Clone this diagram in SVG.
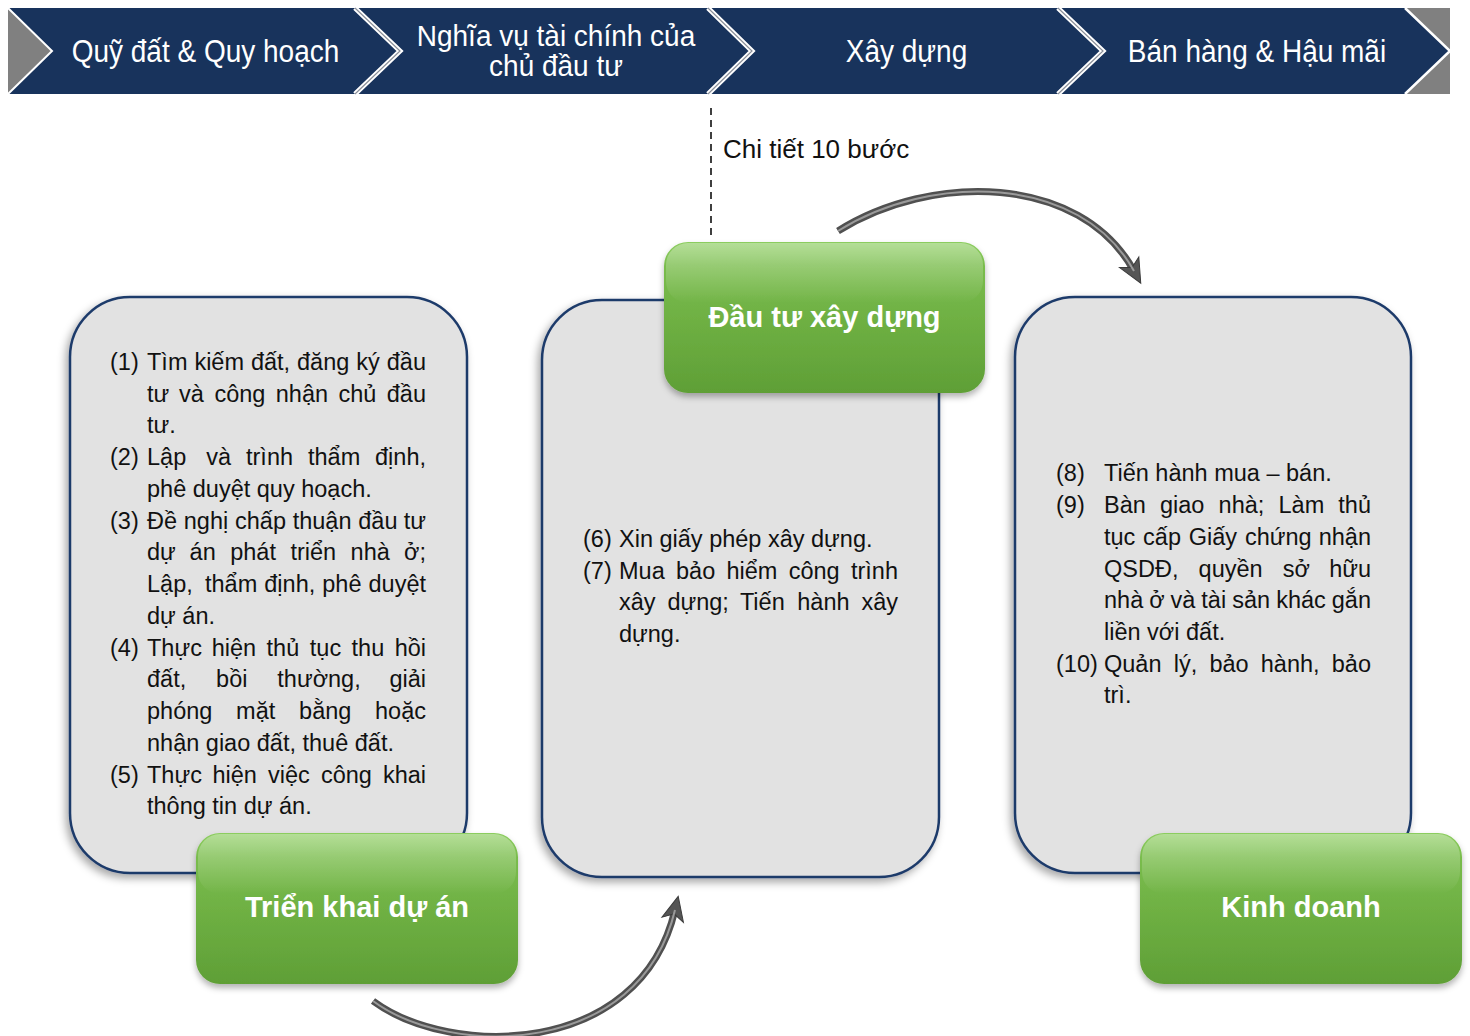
<svg xmlns="http://www.w3.org/2000/svg" width="1470" height="1036" viewBox="0 0 1470 1036">
<defs>
<style>
.t{font-family:"Liberation Sans",Arial,sans-serif;font-size:23.5px;fill:#111}
.e{text-anchor:end}
.hd{font-family:"Liberation Sans",Arial,sans-serif;font-size:28px;fill:#fff;text-anchor:middle}
.gl{font-family:"Liberation Sans",Arial,sans-serif;font-size:29px;font-weight:bold;fill:#fff;text-anchor:middle}
.chev{fill:#18335c}
.sepw{fill:none;stroke:#fff;stroke-width:5;stroke-linejoin:miter}
.sepg{fill:none;stroke:#8a8f99;stroke-width:1.2}
.box{fill:#e2e2e2;stroke:#1f3b6b;stroke-width:2.5;filter:url(#sh)}
.gbox{fill:url(#gG);filter:url(#gsh)}
.ghi{fill:url(#gH)}
.arr-o{fill:none;stroke:#505050;stroke-width:7;stroke-linecap:butt}
.arr-i{fill:none;stroke:#9a9a9a;stroke-width:2}
</style>
<filter id="sh" x="-10%" y="-10%" width="120%" height="120%">
<feDropShadow dx="-3" dy="4" stdDeviation="4" flood-color="#000" flood-opacity="0.35"/>
</filter>
<filter id="gsh" x="-10%" y="-10%" width="120%" height="130%">
<feDropShadow dx="0" dy="4" stdDeviation="3" flood-color="#000" flood-opacity="0.3"/>
</filter>
<linearGradient id="gG" x1="0" y1="0" x2="0" y2="1">
<stop offset="0" stop-color="#8ccd5f"/>
<stop offset="0.15" stop-color="#7abd4d"/>
<stop offset="1" stop-color="#5f9f36"/>
</linearGradient>
<linearGradient id="gH" x1="0" y1="0" x2="0" y2="1">
<stop offset="0" stop-color="#fff" stop-opacity="0.35"/>
<stop offset="1" stop-color="#fff" stop-opacity="0"/>
</linearGradient>
<marker id="ah" markerUnits="userSpaceOnUse" viewBox="-26 -13 28 26" markerWidth="28" markerHeight="26" refX="-14" refY="0" orient="auto">
<path d="M0,0 L-24,-11 L-18,0 L-24,11 Z" fill="#555" stroke="#3a3a3a" stroke-width="1"/>
</marker>
</defs>
<rect width="1470" height="1036" fill="#fff"/>

<g id="banner">
<rect x="8" y="8" width="1442" height="86" fill="#808080"/>
<polygon class="chev" points="8,8 355,8 400,51 355,94 8,94 52,51"/>
<polygon class="chev" points="355,8 708,8 752,51 708,94 355,94 400,51"/>
<polygon class="chev" points="708,8 1058,8 1103,51 1058,94 708,94 752,51"/>
<polygon class="chev" points="1058,8 1405,8 1450,51 1405,94 1058,94 1103,51"/>
<polyline points="8,8 52,51 8,94" fill="none" stroke="#fff" stroke-width="2"/>
<polyline points="1405,8 1450,51 1405,94" fill="none" stroke="#fff" stroke-width="2.5"/>
<polyline class="sepw" points="355,8 400,51 355,94"/>
<polyline class="sepg" points="355,8 400,51 355,94"/>
<polyline class="sepw" points="708,8 752,51 708,94"/>
<polyline class="sepg" points="708,8 752,51 708,94"/>
<polyline class="sepw" points="1058,8 1103,51 1058,94"/>
<polyline class="sepg" points="1058,8 1103,51 1058,94"/>
<text class="hd" transform="translate(205.5,62) scale(1,1.1)">Quỹ đất &amp; Quy hoạch</text>
<text class="hd" transform="translate(556,46) scale(1,1.05)">Nghĩa vụ tài chính của</text>
<text class="hd" transform="translate(556,76) scale(1,1.05)">chủ đầu tư</text>
<text class="hd" transform="translate(906.5,62) scale(1,1.1)">Xây dựng</text>
<text class="hd" transform="translate(1257,62) scale(1,1.1)">Bán hàng &amp; Hậu mãi</text>
</g>

<g id="detail-label">
<line x1="711" y1="108" x2="711" y2="238" stroke="#111" stroke-width="1.6" stroke-dasharray="7,5"/>
<text x="723" y="158" style="font-family:'Liberation Sans',Arial,sans-serif;font-size:26px;fill:#111">Chi tiết 10 bước</text>
</g>

<g id="box1">
<rect class="box" x="70" y="297" width="397" height="576" rx="60" ry="60"/>
<text class="t" x="110" y="370">(1)</text>
<text class="t" x="147" y="370">Tìm</text>
<text class="t" x="194.4" y="370">kiếm</text>
<text class="t" x="250.9" y="370">đất,</text>
<text class="t" x="297" y="370">đăng</text>
<text class="t" x="356.3" y="370">ký</text>
<text class="t e" x="426" y="370">đầu</text>
<text class="t" x="147" y="401.5">tư</text>
<text class="t" x="179.1" y="401.5">và</text>
<text class="t" x="214.4" y="401.5">công</text>
<text class="t" x="275.8" y="401.5">nhận</text>
<text class="t" x="338.5" y="401.5">chủ</text>
<text class="t e" x="426" y="401.5">đầu</text>
<text class="t" x="147" y="433">tư.</text>
<text class="t" x="110" y="465">(2)</text>
<text class="t" x="147" y="465">Lập</text>
<text class="t" x="206.3" y="465">và</text>
<text class="t" x="246" y="465">trình</text>
<text class="t" x="308" y="465">thẩm</text>
<text class="t e" x="426" y="465">định,</text>
<text class="t" x="147" y="497">phê duyệt quy hoạch.</text>
<text class="t" x="110" y="528.5">(3)</text>
<text class="t" x="147" y="528.5">Đề</text>
<text class="t" x="183.8" y="528.5">nghị</text>
<text class="t" x="235" y="528.5">chấp</text>
<text class="t" x="292.7" y="528.5">thuận</text>
<text class="t" x="358.3" y="528.5">đầu</text>
<text class="t e" x="426" y="528.5">tư</text>
<text class="t" x="147" y="560">dự</text>
<text class="t" x="189.6" y="560">án</text>
<text class="t" x="230.2" y="560">phát</text>
<text class="t" x="290.4" y="560">triển</text>
<text class="t" x="350.6" y="560">nhà</text>
<text class="t e" x="426" y="560">ở;</text>
<text class="t" x="147" y="592">Lập,</text>
<text class="t" x="205" y="592">thẩm</text>
<text class="t" x="264.3" y="592">định,</text>
<text class="t" x="322.3" y="592">phê</text>
<text class="t e" x="426" y="592">duyệt</text>
<text class="t" x="147" y="624">dự án.</text>
<text class="t" x="110" y="655.5">(4)</text>
<text class="t" x="147" y="655.5">Thực</text>
<text class="t" x="211.7" y="655.5">hiện</text>
<text class="t" x="266.6" y="655.5">thủ</text>
<text class="t" x="309.8" y="655.5">tục</text>
<text class="t" x="351.6" y="655.5">thu</text>
<text class="t e" x="426" y="655.5">hồi</text>
<text class="t" x="147" y="687">đất,</text>
<text class="t" x="216.1" y="687">bồi</text>
<text class="t" x="277.3" y="687">thường,</text>
<text class="t e" x="426" y="687">giải</text>
<text class="t" x="147" y="719">phóng</text>
<text class="t" x="236.1" y="719">mặt</text>
<text class="t" x="299.1" y="719">bằng</text>
<text class="t e" x="426" y="719">hoặc</text>
<text class="t" x="147" y="751">nhận giao đất, thuê đất.</text>
<text class="t" x="110" y="782.5">(5)</text>
<text class="t" x="147" y="782.5">Thực</text>
<text class="t" x="212.4" y="782.5">hiện</text>
<text class="t" x="268" y="782.5">việc</text>
<text class="t" x="320.9" y="782.5">công</text>
<text class="t e" x="426" y="782.5">khai</text>
<text class="t" x="147" y="814">thông tin dự án.</text>
</g>

<g id="box2">
<rect class="box" x="542" y="300" width="397" height="577" rx="60" ry="60"/>
<text class="t" x="583" y="547">(6)</text>
<text class="t" x="619" y="547">Xin giấy phép xây dựng.</text>
<text class="t" x="583" y="579">(7)</text>
<text class="t" x="619" y="579">Mua</text>
<text class="t" x="676" y="579">bảo</text>
<text class="t" x="726.5" y="579">hiểm</text>
<text class="t" x="788.7" y="579">công</text>
<text class="t e" x="898" y="579">trình</text>
<text class="t" x="619" y="610">xây</text>
<text class="t" x="667.4" y="610">dựng;</text>
<text class="t" x="739.9" y="610">Tiến</text>
<text class="t" x="797.3" y="610">hành</text>
<text class="t e" x="898" y="610">xây</text>
<text class="t" x="619" y="642">dựng.</text>
</g>

<g id="box3">
<rect class="box" x="1015" y="297" width="396" height="576" rx="60" ry="60"/>
<text class="t" x="1056" y="481">(8)</text>
<text class="t" x="1104" y="481">Tiến hành mua – bán.</text>
<text class="t" x="1056" y="513">(9)</text>
<text class="t" x="1104" y="513">Bàn</text>
<text class="t" x="1160" y="513">giao</text>
<text class="t" x="1218.6" y="513">nhà;</text>
<text class="t" x="1278.5" y="513">Làm</text>
<text class="t e" x="1371" y="513">thủ</text>
<text class="t" x="1104" y="545">tục</text>
<text class="t" x="1143.1" y="545">cấp</text>
<text class="t" x="1188.8" y="545">Giấy</text>
<text class="t" x="1244.9" y="545">chứng</text>
<text class="t e" x="1371" y="545">nhận</text>
<text class="t" x="1104" y="576.5">QSDĐ,</text>
<text class="t" x="1198.6" y="576.5">quyền</text>
<text class="t" x="1282.8" y="576.5">sở</text>
<text class="t e" x="1371" y="576.5">hữu</text>
<text class="t" x="1104" y="608">nhà</text>
<text class="t" x="1149.3" y="608">ở</text>
<text class="t" x="1170.4" y="608">và</text>
<text class="t" x="1201.3" y="608">tài</text>
<text class="t" x="1232.2" y="608">sản</text>
<text class="t" x="1276.2" y="608">khác</text>
<text class="t e" x="1371" y="608">gắn</text>
<text class="t" x="1104" y="640">liền với đất.</text>
<text class="t" x="1056" y="671.5">(10)</text>
<text class="t" x="1104" y="671.5">Quản</text>
<text class="t" x="1173.7" y="671.5">lý,</text>
<text class="t" x="1209.4" y="671.5">bảo</text>
<text class="t" x="1260.8" y="671.5">hành,</text>
<text class="t e" x="1371" y="671.5">bảo</text>
<text class="t" x="1104" y="703">trì.</text>
</g>

<g id="node-dau-tu">
<rect class="gbox" x="664" y="242" width="321" height="151" rx="24" ry="24"/>
<rect class="ghi" x="666" y="243" width="317" height="60" rx="22" ry="22"/>
<text class="gl" x="824.5" y="327">Đầu tư xây dựng</text>
</g>

<g id="node-trien-khai">
<rect class="gbox" x="196" y="833" width="322" height="151" rx="24" ry="24"/>
<rect class="ghi" x="198" y="834" width="318" height="60" rx="22" ry="22"/>
<text class="gl" x="357" y="917">Triển khai dự án</text>
</g>

<g id="node-kinh-doanh">
<rect class="gbox" x="1140" y="833" width="322" height="151" rx="24" ry="24"/>
<rect class="ghi" x="1142" y="834" width="318" height="60" rx="22" ry="22"/>
<text class="gl" x="1301" y="917">Kinh doanh</text>
</g>

<g id="connectors">
<path class="arr-o" d="M838,231 C930,173 1080,173 1134,271" marker-end="url(#ah)"/>
<path class="arr-i" d="M838,231 C930,173 1080,173 1134,271"/>
<path class="arr-o" d="M373,1001 C450,1058 640,1058 675,910" marker-end="url(#ah)"/>
<path class="arr-i" d="M373,1001 C450,1058 640,1058 675,910"/>
</g>
</svg>
